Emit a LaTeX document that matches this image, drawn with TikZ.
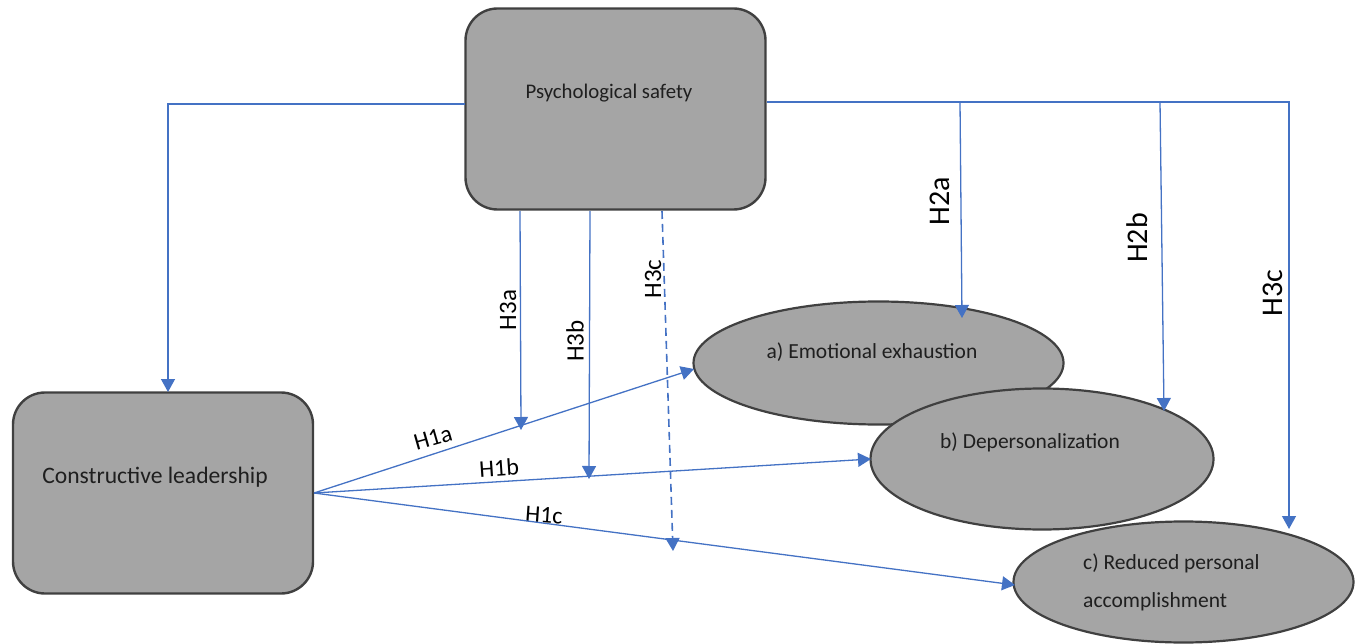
\documentclass[tikz,border=0pt]{standalone}
\usepackage{fontspec}
\setmainfont{Carlito}
\usetikzlibrary{shapes.geometric,arrows.meta}
\definecolor{boxfill}{HTML}{A5A5A5}
\definecolor{boxline}{HTML}{404040}
\definecolor{lnblue}{HTML}{4472C4}
\begin{document}
\begin{tikzpicture}[x=1pt,y=-1pt,
 box/.style={draw=boxline,fill=boxfill,line width=2.4pt,rounded corners=32pt,minimum width=300pt,minimum height=201pt,inner sep=0pt},
 oval/.style={draw=boxline,fill=boxfill,line width=2.2pt,ellipse,inner sep=0pt},
 conn/.style={draw=lnblue,line width=1.3pt},
 arr/.style={conn,-{Triangle[length=13pt,width=14pt]}},
 txt/.style={font=\fontsize{20.8}{24}\selectfont,text=black!88,inner sep=0pt},
 hbig/.style={font=\fontsize{30}{36}\selectfont,rotate=90,inner sep=0pt},
 hmid/.style={font=\fontsize{25}{30}\selectfont,rotate=90,inner sep=0pt},
 hone/.style={font=\fontsize{24}{28}\selectfont,inner sep=0pt}
]
\useasboundingbox (0,0) rectangle (1362,644);
% shapes
\node[box] (ps) at (615.5,109) {};
\node[box] (cl) at (163,493) {};
\node[oval,minimum width=370pt,minimum height=123pt] (ea) at (878.5,363) {};
\node[oval,minimum width=343pt,minimum height=141pt] (eb) at (1042,459) {};
\node[oval,minimum width=340pt,minimum height=121pt] (ec) at (1183.5,582) {};
% texts
\node[txt] (pst) at (609,93) {Psychological safety};
\node[txt,font=\fontsize{23.6}{28}\selectfont] (clt) at (155,477) {Constructive leadership};
\node[txt,font=\fontsize{21.5}{26}\selectfont] (eat) at (872,352) {a) Emotional exhaustion};
\node[txt,font=\fontsize{21.5}{26}\selectfont] (ebt) at (1030,442) {b) Depersonalization};
\node[txt,anchor=west,font=\fontsize{21.5}{26}\selectfont] (ect1) at (1083,563) {c) Reduced personal};
\node[txt,anchor=west,font=\fontsize{21.5}{26}\selectfont] (ect2) at (1083,602) {accomplishment};
% labels
\node[hbig] (l2a) at (940,201) {H2a};
\node[hbig] (l2b) at (1137,238) {H2b};
\node[hbig] (l3cR) at (1273,293) {H3c};
\node[hmid] (l3a) at (508,310) {H3a};
\node[hmid] (l3b) at (575,341) {H3b};
\node[hmid] (l3cL) at (653,279) {H3c};
\node[hone,rotate=16] (l1a) at (433,438) {H1a};
\node[hone,rotate=4] (l1b) at (499,468) {H1b};
\node[hone,rotate=-4] (l1c) at (544,515) {H1c};
% coordinates
\coordinate (psL) at (465,104);
\coordinate (clTop) at (168,392);
\coordinate (psR) at (767,102);
\coordinate (jA) at (960,102);
\coordinate (jB) at (1160,102);
\coordinate (tA) at (962,318);
\coordinate (tB) at (1164,411);
\coordinate (tC) at (1289,529);
\coordinate (s3a) at (520,211);
\coordinate (t3a) at (521,430);
\coordinate (s3b) at (590,211);
\coordinate (t3b) at (589,479);
\coordinate (s3c) at (662,211);
\coordinate (t3c) at (673,551);
\coordinate (clR) at (314,493);
\coordinate (tEa) at (694,369);
\coordinate (tEb) at (871,459);
\coordinate (tEc) at (1015,585);
% connectors
\draw[arr] (psL) -| (clTop);
\draw[arr] (psR) -| (tC);
\draw[arr] (jA) -- (tA);
\draw[arr] (jB) -- (tB);
\draw[arr] (s3a) -- (t3a);
\draw[arr] (s3b) -- (t3b);
\draw[arr,line width=1.6pt,dash pattern=on 8pt off 5pt] (s3c) -- (t3c);
\draw[arr] (clR) -- (tEa);
\draw[arr] (clR) -- (tEb);
\draw[arr] (clR) -- (tEc);
\end{tikzpicture}
\end{document}
